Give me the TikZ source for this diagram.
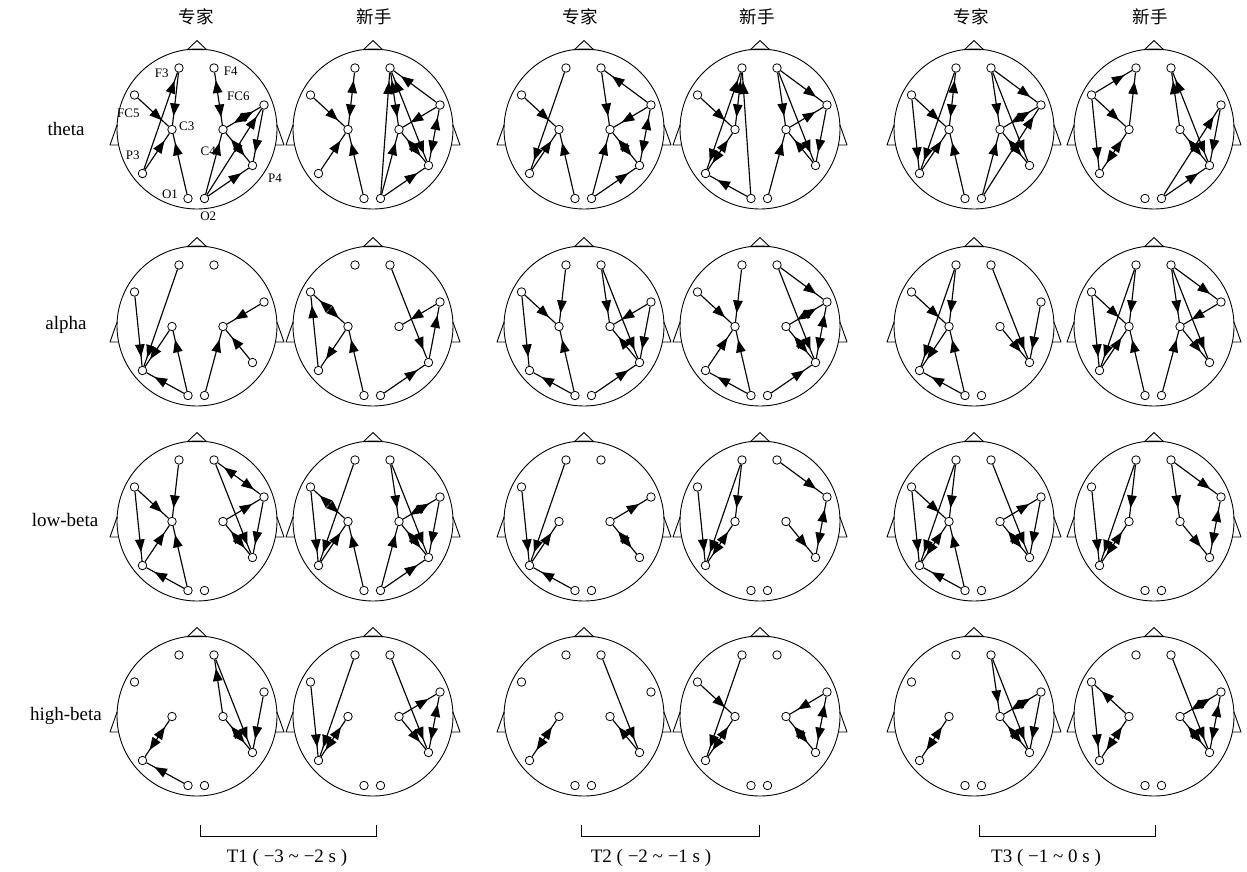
\documentclass[tikz,border=0pt]{standalone}
\usepackage{fontspec}
\setmainfont{Liberation Serif}
\newfontfamily\cjk{Noto Sans CJK SC}
\usetikzlibrary{arrows.meta,decorations.markings}
\pgfdeclarelayer{bg}
\pgfsetlayers{bg,main}
\tikzset{
 hl/.style={line width=0.9pt, line join=round},
 el/.style={circle, draw, fill=white, line width=0.8pt, minimum size=8.5pt, inner sep=0pt},
 edge/.style={line width=1.15pt},
 one/.style={decoration={markings, mark=at position -9pt with {\arrow{Triangle[length=12.5pt,width=9.5pt]}}}, postaction={decorate}},
 two/.style={decoration={markings, mark=at position 8pt with {\arrowreversed{Triangle[length=12.5pt,width=9.5pt]}}, mark=at position -8pt with {\arrow{Triangle[length=12.5pt,width=9.5pt]}}}, postaction={decorate}},
 elab/.style={font=\fontsize{13}{14}\selectfont, inner sep=0pt},
 rowlab/.style={font=\fontsize{19}{21}\selectfont, inner sep=0pt},
 collab/.style={font=\cjk\fontsize{17.5}{20}\selectfont, inner sep=0pt},
 tlab/.style={font=\fontsize{19}{21}\selectfont, inner sep=0pt},
 brk/.style={line width=0.9pt},
}
\newcommand{\hd}[3]{%
 \begin{scope}[shift={(#2,#3)}]
  \draw[hl] (0,0) circle[radius=80];
  \draw[hl] (-9.5,-79.4) -- (0,-88.5) -- (9.5,-79.4) -- cycle;
  \draw[hl] (-79.9,-4) -- (-87,16) -- (-78.4,16);
  \draw[hl] (79.9,-4) -- (87,16) -- (78.4,16);
  \node[el] (#1F3) at (-18,-61) {};
  \node[el] (#1F4) at (17,-61) {};
  \node[el] (#1FC5) at (-62.5,-34) {};
  \node[el] (#1FC6) at (67,-24) {};
  \node[el] (#1C3) at (-25,0.5) {};
  \node[el] (#1C4) at (26,0.5) {};
  \node[el] (#1P3) at (-54.5,44.5) {};
  \node[el] (#1P4) at (55.5,36.5) {};
  \node[el] (#1O1) at (-9,69.5) {};
  \node[el] (#1O2) at (7.5,69.5) {};
 \end{scope}}
\newcommand{\Ed}[3]{\draw[edge,one] (#1#2) -- (#1#3);}
\newcommand{\Bd}[3]{\draw[edge,two] (#1#2) -- (#1#3);}
\begin{document}
\begin{tikzpicture}[x=1pt,y=-1pt]
\useasboundingbox (0,0) rectangle (1247,872);
% heads
\hd{a}{197}{129} \hd{b}{373}{129} \hd{c}{584}{129} \hd{d}{760}{129} \hd{e}{974}{129} \hd{f}{1154}{129}
\hd{g}{197}{326} \hd{h}{373}{326} \hd{i}{584}{326} \hd{j}{760}{326} \hd{k}{974}{326} \hd{l}{1154}{326}
\hd{m}{197}{521} \hd{n}{373}{521} \hd{o}{584}{521} \hd{p}{760}{521} \hd{q}{974}{521} \hd{r}{1154}{521}
\hd{s}{197}{716} \hd{t}{373}{716} \hd{u}{584}{716} \hd{v}{760}{716} \hd{w}{974}{716} \hd{x}{1154}{716}
% electrode labels (first head)
\node[elab] (labF3) at (161.7,73.3) {F3};
\node[elab] (labF4) at (230.7,71.7) {F4};
\node[elab] (labFC5) at (128.3,113.3) {FC5};
\node[elab] (labFC6) at (238.3,96.7) {FC6};
\node[elab] (labC3) at (186.7,126) {C3};
\node[elab] (labC4) at (208.3,151.7) {C4};
\node[elab] (labP3) at (132.7,155) {P3};
\node[elab] (labP4) at (275,178.3) {P4};
\node[elab] (labO1) at (170,194) {O1};
\node[elab] (labO2) at (208.3,216.7) {O2};
% column and row labels
\node[collab] (col1) at (196,17) {专家};
\node[collab] (col2) at (374,17) {新手};
\node[collab] (col3) at (580,17) {专家};
\node[collab] (col4) at (757,17) {新手};
\node[collab] (col5) at (971,17) {专家};
\node[collab] (col6) at (1150,17) {新手};
\node[rowlab] (row1) at (66,129) {theta};
\node[rowlab] (row2) at (66,325) {alpha};
\node[rowlab] (row3) at (65,520) {low-beta};
\node[rowlab] (row4) at (66,716) {high-beta};
% brackets
\coordinate (b1a) at (200,825); \coordinate (b1b) at (376,825);
\coordinate (b2a) at (581,825); \coordinate (b2b) at (759,825);
\coordinate (b3a) at (979,825); \coordinate (b3b) at (1155,825);
\draw[brk] (b1a) -- ++(0,11.7) -| (b1b);
\draw[brk] (b2a) -- ++(0,11.7) -| (b2b);
\draw[brk] (b3a) -- ++(0,11.7) -| (b3b);
\node[tlab] (tl1) at (287,858) {T1 ( −3 \char"7E{} −2 s )};
\node[tlab] (tl2) at (651,858) {T2 ( −2 \char"7E{} −1 s )};
\node[tlab] (tl3) at (1046,858) {T3 ( −1 \char"7E{} 0 s )};
\begin{pgfonlayer}{bg}
% r1c1
\Ed{a}{F3}{C3} \Ed{a}{P3}{F3} \Ed{a}{FC5}{C3} \Ed{a}{P3}{C3} \Ed{a}{O1}{C3}
\Bd{a}{F4}{C4} \Bd{a}{FC6}{C4} \Ed{a}{O2}{C4} \Ed{a}{O2}{FC6} \Ed{a}{FC6}{P4} \Bd{a}{C4}{P4} \Ed{a}{O2}{P4}
% r1c2
\Bd{b}{F3}{C3} \Ed{b}{FC5}{C3} \Ed{b}{P3}{C3} \Ed{b}{O1}{C3} \Ed{b}{O2}{F4} \Bd{b}{F4}{C4} \Bd{b}{F4}{P4}
\Ed{b}{FC6}{F4} \Ed{b}{FC6}{C4} \Bd{b}{FC6}{P4} \Bd{b}{C4}{P4} \Ed{b}{O2}{C4} \Ed{b}{O2}{P4}
% r1c3
\Ed{c}{F3}{P3} \Ed{c}{FC5}{C3} \Ed{c}{P3}{C3} \Ed{c}{O1}{C3} \Ed{c}{F4}{C4} \Ed{c}{FC6}{F4} \Ed{c}{FC6}{C4}
\Bd{c}{FC6}{P4} \Bd{c}{C4}{P4} \Ed{c}{O2}{C4} \Ed{c}{O2}{P4}
% r1c4
\Bd{d}{F3}{P3} \Bd{d}{F3}{C3} \Ed{d}{O1}{F3} \Ed{d}{FC5}{C3} \Bd{d}{C3}{P3} \Ed{d}{O1}{P3}
\Ed{d}{F4}{C4} \Ed{d}{F4}{FC6} \Ed{d}{C4}{FC6} \Ed{d}{F4}{P4} \Ed{d}{FC6}{P4} \Ed{d}{P4}{C4} \Ed{d}{O2}{C4}
% r1c5
\Ed{e}{FC5}{P3} \Ed{e}{F3}{P3} \Ed{e}{FC5}{C3} \Bd{e}{F3}{C3} \Ed{e}{P3}{C3} \Ed{e}{O1}{C3}
\Ed{e}{F4}{C4} \Ed{e}{F4}{FC6} \Ed{e}{F4}{P4} \Bd{e}{FC6}{C4} \Ed{e}{O2}{FC6} \Bd{e}{C4}{P4} \Ed{e}{O2}{C4}
% r1c6
\Ed{f}{FC5}{F3} \Ed{f}{FC5}{C3} \Ed{f}{C3}{F3} \Ed{f}{FC5}{P3} \Bd{f}{C3}{P3}
\Ed{f}{C4}{F4} \Bd{f}{F4}{P4} \Ed{f}{O2}{FC6} \Ed{f}{FC6}{P4} \Bd{f}{C4}{P4} \Ed{f}{O2}{P4}
% r2c1
\Ed{g}{FC5}{P3} \Ed{g}{F3}{P3} \Ed{g}{C3}{P3} \Ed{g}{O1}{P3} \Ed{g}{O1}{C3} \Ed{g}{FC6}{C4} \Ed{g}{P4}{C4} \Ed{g}{O2}{C4}
% r2c2
\Bd{h}{FC5}{C3} \Ed{h}{P3}{FC5} \Ed{h}{C3}{P3} \Ed{h}{O1}{C3} \Ed{h}{F4}{P4} \Ed{h}{FC6}{C4} \Ed{h}{P4}{FC6} \Ed{h}{O2}{P4}
% r2c3
\Ed{i}{F3}{C3} \Ed{i}{FC5}{C3} \Ed{i}{FC5}{P3} \Ed{i}{O1}{P3} \Ed{i}{O1}{C3} \Ed{i}{F4}{C4} \Ed{i}{F4}{P4}
\Ed{i}{FC6}{C4} \Ed{i}{FC6}{P4} \Ed{i}{P4}{C4} \Ed{i}{O2}{P4}
% r2c4
\Ed{j}{FC5}{C3} \Ed{j}{F3}{C3} \Ed{j}{P3}{C3} \Ed{j}{O1}{C3} \Ed{j}{O1}{P3} \Ed{j}{F4}{FC6} \Bd{j}{FC6}{C4}
\Ed{j}{F4}{P4} \Bd{j}{FC6}{P4} \Bd{j}{C4}{P4} \Ed{j}{O2}{P4}
% r2c5
\Ed{k}{FC5}{C3} \Ed{k}{F3}{C3} \Ed{k}{F3}{P3} \Ed{k}{C3}{P3} \Ed{k}{O1}{C3} \Ed{k}{O1}{P3}
\Ed{k}{F4}{P4} \Ed{k}{C4}{P4} \Ed{k}{FC6}{P4}
% r2c6
\Ed{l}{FC5}{P3} \Ed{l}{F3}{P3} \Ed{l}{FC5}{C3} \Ed{l}{F3}{C3} \Ed{l}{P3}{C3} \Ed{l}{O1}{C3}
\Ed{l}{F4}{FC6} \Ed{l}{F4}{C4} \Ed{l}{FC6}{C4} \Ed{l}{F4}{P4} \Ed{l}{C4}{P4} \Ed{l}{O2}{C4}
% r3c1
\Ed{m}{FC5}{C3} \Ed{m}{F3}{C3} \Ed{m}{FC5}{P3} \Ed{m}{P3}{C3} \Ed{m}{O1}{C3} \Ed{m}{O1}{P3}
\Bd{m}{F4}{FC6} \Ed{m}{C4}{FC6} \Ed{m}{F4}{P4} \Bd{m}{C4}{P4} \Ed{m}{FC6}{P4}
% r3c2
\Bd{n}{FC5}{C3} \Ed{n}{FC5}{P3} \Ed{n}{F3}{P3} \Ed{n}{P3}{C3} \Ed{n}{O1}{C3}
\Ed{n}{F4}{C4} \Bd{n}{FC6}{C4} \Ed{n}{F4}{P4} \Bd{n}{C4}{P4} \Ed{n}{FC6}{P4} \Ed{n}{O2}{C4} \Ed{n}{O2}{P4}
% r3c3
\Ed{o}{FC5}{P3} \Ed{o}{F3}{P3} \Ed{o}{P3}{C3} \Ed{o}{O1}{P3} \Ed{o}{C4}{FC6} \Bd{o}{C4}{P4}
% r3c4
\Ed{p}{FC5}{P3} \Ed{p}{F3}{P3} \Ed{p}{F3}{C3} \Bd{p}{C3}{P3} \Ed{p}{F4}{FC6} \Bd{p}{FC6}{P4} \Ed{p}{C4}{P4}
% r3c5
\Ed{q}{F3}{C3} \Ed{q}{FC5}{C3} \Ed{q}{FC5}{P3} \Ed{q}{F3}{P3} \Bd{q}{C3}{P3} \Ed{q}{O1}{P3} \Ed{q}{O1}{C3}
\Ed{q}{C4}{FC6} \Ed{q}{F4}{P4} \Bd{q}{C4}{P4} \Ed{q}{FC6}{P4}
% r3c6
\Ed{r}{F3}{P3} \Ed{r}{F3}{C3} \Ed{r}{FC5}{P3} \Bd{r}{C3}{P3} \Ed{r}{F4}{C4} \Ed{r}{F4}{FC6} \Ed{r}{C4}{P4} \Bd{r}{FC6}{P4}
% r4c1
\Ed{s}{C4}{F4} \Ed{s}{F4}{P4} \Bd{s}{C4}{P4} \Ed{s}{FC6}{P4} \Bd{s}{C3}{P3} \Ed{s}{O1}{P3}
% r4c2
\Ed{t}{FC5}{P3} \Ed{t}{F3}{P3} \Bd{t}{C3}{P3} \Ed{t}{F4}{P4} \Ed{t}{C4}{FC6} \Bd{t}{FC6}{P4} \Ed{t}{C4}{P4}
% r4c3
\Bd{u}{C3}{P3} \Ed{u}{F4}{P4} \Ed{u}{P4}{C4}
% r4c4
\Ed{v}{FC5}{C3} \Ed{v}{F3}{P3} \Bd{v}{C3}{P3} \Ed{v}{FC6}{C4} \Bd{v}{FC6}{P4} \Bd{v}{C4}{P4}
% r4c5
\Bd{w}{C3}{P3} \Ed{w}{F4}{C4} \Ed{w}{F4}{P4} \Bd{w}{C4}{FC6} \Bd{w}{C4}{P4} \Ed{w}{FC6}{P4}
% r4c6
\Ed{x}{C3}{FC5} \Ed{x}{FC5}{P3} \Bd{x}{C3}{P3} \Ed{x}{F4}{P4} \Bd{x}{C4}{FC6} \Bd{x}{FC6}{P4} \Bd{x}{C4}{P4}
\end{pgfonlayer}
\end{tikzpicture}
\end{document}
